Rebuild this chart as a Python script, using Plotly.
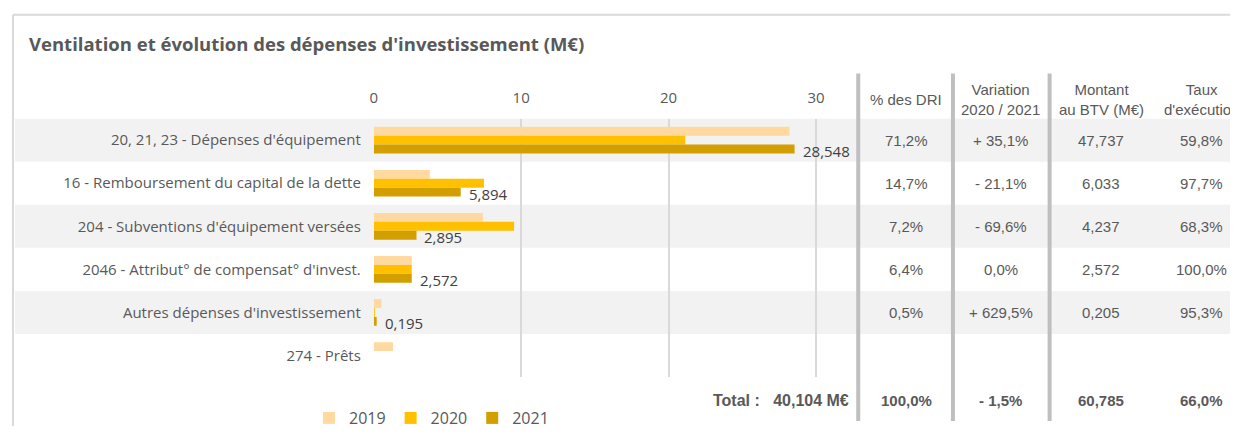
import plotly.graph_objs as go

# the page body has an 8px margin, so the figure is drawn 8px in
OFF = 8
W, H = 1238 - OFF, 435 - OFF

categories = [
    "20, 21, 23 - Dépenses d'équipement",
    "16 - Remboursement du capital de la dette",
    "204 - Subventions d'équipement versées",
    "2046 - Attribut° de compensat° d'invest.",
    "Autres dépenses d'investissement",
    "274 - Prêts",
]
years = ["2019", "2020", "2021"]
v2019 = [28.2, 3.8, 7.4, 2.572, 0.52, 1.3]
v2020 = [21.13, 7.47, 9.52, 2.572, 0.027, 0]
v2021 = [28.548, 5.894, 2.895, 2.572, 0.195, 0]
labels2021 = ["28,548", "5,894", "2,895", "2,572", "0,195", ""]

col_headers = ["% des DRI", "Variation<br>2020 / 2021", "Montant<br>au BTV (M€)", "Taux<br>d'exécution"]
pct_dri = ["71,2%", "14,7%", "7,2%", "6,4%", "0,5%", ""]
variation = ["+ 35,1%", "- 21,1%", "- 69,6%", "0,0%", "+ 629,5%", ""]
montant_btv = ["47,737", "6,033", "4,237", "2,572", "0,205", ""]
taux_exec = ["59,8%", "97,7%", "68,3%", "100,0%", "95,3%", ""]
totals = ["100,0%", "- 1,5%", "60,785", "66,0%"]
total_label = "Total :   40,104 M€"

colors = ["#FFD9A0", "#FFC000", "#D39F00"]
GREY = "#595959"
TABLE_FONT = "Liberation Sans, Arial, sans-serif"
LABEL_FONT = "Open Sans, Noto Sans, sans-serif"


def px(x):
    return (x - OFF - 2) / W


def py(y):
    return 1 - (y - OFF) / H


fig = go.Figure()
for name, vals, c in zip(years, [v2019, v2020, v2021], colors):
    fig.add_trace(go.Bar(y=categories, x=vals, name=name, orientation="h",
                         marker=dict(color=c, line=dict(width=0))))

shapes = []
# alternating grey bands
for i in range(0, len(categories), 2):
    shapes.append(dict(type="rect", xref="paper", yref="y", x0=px(13), x1=1,
                       y0=i - 0.5, y1=i + 0.5, fillcolor="#F2F2F2",
                       line=dict(width=0), layer="below"))
# frame
shapes.append(dict(type="line", xref="paper", yref="paper", x0=px(11), x1=1,
                   y0=py(15), y1=py(15), line=dict(color="#D9D9D9", width=2)))
shapes.append(dict(type="line", xref="paper", yref="paper", x0=px(11), x1=px(11),
                   y0=py(15), y1=0, line=dict(color="#D9D9D9", width=2)))
# table separators
for sx in [859, 954, 1051]:
    shapes.append(dict(type="line", xref="paper", yref="paper", x0=px(sx), x1=px(sx),
                       y0=py(75), y1=py(430), line=dict(color="#BFBFBF", width=4)))

annotations = [dict(text="<b>Ventilation et évolution des dépenses d'investissement (M€)</b>",
                    xref="paper", yref="paper", x=px(25), y=py(44), xanchor="left",
                    yanchor="middle", showarrow=False,
                    font=dict(family=LABEL_FONT, size=18.5, color=GREY))]

# data labels of 2021
for cat, val, lab in zip(categories, v2021, labels2021):
    if lab:
        annotations.append(dict(text=lab, x=val, y=cat, xref="x", yref="y",
                                xanchor="left", yanchor="middle", xshift=6, yshift=-11,
                                showarrow=False,
                                font=dict(family=LABEL_FONT, size=15, color="#404040")))

col_x = [907, 1002, 1103, 1203]
for cx, head in zip(col_x, col_headers):
    annotations.append(dict(text=head, xref="paper", yref="paper", x=px(cx), y=py(101),
                            xanchor="center", yanchor="middle", showarrow=False,
                            font=dict(family=TABLE_FONT, size=15, color=GREY)))

for cx, col in zip(col_x, [pct_dri, variation, montant_btv, taux_exec]):
    for cat, val in zip(categories, col):
        if val:
            annotations.append(dict(text=val, xref="paper", yref="y", x=px(cx), y=cat,
                                    xanchor="center", yanchor="middle", showarrow=False,
                                    font=dict(family=TABLE_FONT, size=15, color=GREY)))

for cx, val in zip(col_x, totals):
    annotations.append(dict(text="<b>" + val + "</b>", xref="paper", yref="paper",
                            x=px(cx), y=py(409), xanchor="center", yanchor="middle",
                            showarrow=False,
                            font=dict(family=TABLE_FONT, size=15, color=GREY)))
annotations.append(dict(text="<b>" + total_label + "</b>", xref="paper", yref="paper",
                        x=px(852), y=py(409), xanchor="right", yanchor="middle",
                        showarrow=False,
                        font=dict(family=TABLE_FONT, size=16, color=GREY)))

fig.update_layout(
    width=W, height=H,
    margin=dict(l=0, r=0, t=0, b=0),
    paper_bgcolor="white",
    plot_bgcolor="rgba(0,0,0,0)",
    barmode="group",
    bargap=0.38,
    bargroupgap=0,
    showlegend=True,
    legend=dict(orientation="h", x=px(308), y=py(427), xanchor="left", yanchor="middle",
                font=dict(family=LABEL_FONT, size=16, color=GREY),
                itemwidth=30, traceorder="normal", bgcolor="rgba(0,0,0,0)"),
    xaxis=dict(domain=[px(373), px(858)], range=[0, 32.8], side="top", dtick=10,
               showgrid=True, gridcolor="#D9D9D9", gridwidth=2, zeroline=False,
               showline=False, ticks="outside", ticklen=9, tickcolor="rgba(0,0,0,0)",
               tickfont=dict(family=LABEL_FONT, size=15, color=GREY), fixedrange=True),
    yaxis=dict(domain=[py(385), py(121)], range=[5.5, -0.5], showgrid=False,
               zeroline=False, showline=False, ticks="outside", ticklen=9,
               tickcolor="rgba(0,0,0,0)",
               tickfont=dict(family=LABEL_FONT, size=15, color=GREY), fixedrange=True),
    shapes=shapes,
    annotations=annotations,
)

fig.write_html("out.html")
